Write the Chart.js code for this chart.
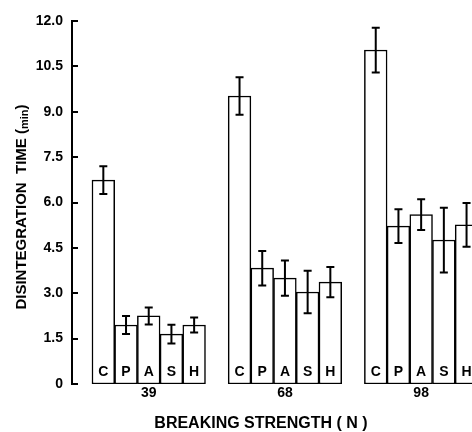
<!DOCTYPE html>
<html lang="en">
<head>
    <meta charset="UTF-8">
    <script src="https://cdn.jsdelivr.net/npm/chart.js@4"></script>
    <title>Disintegration time</title>
    <style>
        body { margin: 0; background: #fff; }
    </style>
</head>
<body>
<canvas id="myChart" width="472" height="432"></canvas>
<script>
// breaking strength groups and the five formulations in each
const strengths = ['39', '68', '98'];
const letters = ['C', 'P', 'A', 'S', 'H'];
// disintegration time (min) and error bars, one pair per group
const time39 = [6.74, 1.95, 2.25, 1.65, 1.95];
const err39 = [0.46, 0.30, 0.28, 0.31, 0.25];
const time68 = [9.52, 3.83, 3.50, 3.04, 3.37];
const err68 = [0.62, 0.57, 0.58, 0.70, 0.50];
const time98 = [11.04, 5.22, 5.60, 4.76, 5.26];
const err98 = [0.74, 0.56, 0.51, 1.07, 0.72];
const yMax = 12;
const yStep = 1.5;

const times = [time39, time68, time98];
const errs = [err39, err68, err98];
const slotsPerGroup = letters.length + 1; // one empty slot between groups

let points = [];
let errList = [];
strengths.forEach((s, g) => {
    letters.forEach((l, i) => {
        points.push({x: g * slotsPerGroup + i, y: times[g][i], letter: l});
        errList.push(errs[g][i]);
    });
});
const groupCenters = strengths.map((s, g) => g * slotsPerGroup + (letters.length - 1) / 2);

const FONT = '"Liberation Sans", Arial, sans-serif';
Chart.defaults.color = '#000';
Chart.defaults.font.family = FONT;

// error bars, tick marks on the inside of the y axis, bar letters, axis titles
const extras = {
    id: 'extras',
    afterDatasetsDraw(chart) {
        const ctx = chart.ctx;
        const y = chart.scales.y;
        const meta = chart.getDatasetMeta(0);
        ctx.save();
        ctx.beginPath();
        ctx.rect(0, 0, chart.width, chart.height);
        ctx.clip();
        ctx.strokeStyle = '#000';
        ctx.lineWidth = 2;
        meta.data.forEach((bar, i) => {
            const v = points[i].y;
            const e = errList[i];
            const top = y.getPixelForValue(v + e);
            const bot = y.getPixelForValue(v - e);
            ctx.beginPath();
            ctx.moveTo(bar.x, top);
            ctx.lineTo(bar.x, bot);
            ctx.moveTo(bar.x - 4, top);
            ctx.lineTo(bar.x + 4, top);
            ctx.moveTo(bar.x - 4, bot);
            ctx.lineTo(bar.x + 4, bot);
            ctx.stroke();
        });
        // letters at the foot of each bar
        ctx.fillStyle = '#000';
        ctx.font = 'bold 14px ' + FONT;
        ctx.textAlign = 'center';
        ctx.textBaseline = 'middle';
        meta.data.forEach((bar, i) => {
            ctx.fillText(points[i].letter, bar.x, y.getPixelForValue(0) - 12);
        });
        ctx.restore();
    },
    afterDraw(chart) {
        const ctx = chart.ctx;
        const y = chart.scales.y;
        const area = chart.chartArea;
        ctx.save();
        ctx.strokeStyle = '#000';
        ctx.lineWidth = 2;
        y.ticks.forEach(t => {
            const py = Math.round(y.getPixelForValue(t.value));
            ctx.beginPath();
            ctx.moveTo(area.left, py);
            ctx.lineTo(area.left + 6, py);
            ctx.stroke();
        });
        ctx.fillStyle = '#000';
        // x title
        ctx.font = 'bold 16px ' + FONT;
        ctx.textAlign = 'center';
        ctx.textBaseline = 'middle';
        ctx.fillText('BREAKING STRENGTH ( N )', 261, 424);
        // y title with subscript "min"
        const big = 'bold 15px ' + FONT;
        const small = 'bold 11px ' + FONT;
        const parts = [['DISINTEGRATION  TIME (', big, 0], ['min', small, 3], [')', big, 0]];
        let total = 0;
        parts.forEach(p => { ctx.font = p[1]; total += ctx.measureText(p[0]).width; });
        ctx.translate(22, 207);
        ctx.rotate(-Math.PI / 2);
        ctx.textAlign = 'left';
        let cx = -total / 2;
        parts.forEach(p => {
            ctx.font = p[1];
            ctx.fillText(p[0], cx, p[2]);
            cx += ctx.measureText(p[0]).width;
        });
        ctx.restore();
    }
};

const ctx = document.getElementById('myChart');
const myChart = new Chart(ctx, {
    type: 'bar',
    data: {
        datasets: [{
            data: points,
            backgroundColor: '#fff',
            borderColor: '#000',
            borderWidth: 1.5,
            borderSkipped: false,
            barPercentage: 1,
            categoryPercentage: 1
        }]
    },
    options: {
        responsive: false,
        devicePixelRatio: 1,
        animation: false,
        layout: { padding: { top: 21, right: 0, bottom: 0, left: 0 } },
        plugins: {
            legend: { display: false },
            tooltip: { enabled: false }
        },
        scales: {
            x: {
                type: 'linear',
                offset: false,
                min: -1.38,
                max: 16.24,
                afterBuildTicks: (scale) => {
                    scale.ticks = groupCenters.map(v => ({value: v}));
                },
                afterFit: (scale) => { scale.height = 48; },
                grid: { display: false, drawTicks: false, offset: false },
                border: { display: false },
                ticks: {
                    padding: 1,
                    maxRotation: 0,
                    font: { size: 14, weight: 'bold' },
                    callback: (v) => strengths[groupCenters.indexOf(v)] || ''
                }
            },
            y: {
                min: 0,
                max: yMax,
                afterFit: (scale) => { scale.width = 72; },
                grid: { display: false, drawTicks: false },
                border: { display: true, color: '#000', width: 2 },
                ticks: {
                    stepSize: yStep,
                    padding: 9,
                    font: { size: 14, weight: 'bold' },
                    callback: (v) => v === 0 ? '0' : v.toFixed(1)
                }
            }
        }
    },
    plugins: [extras]
});
</script>
</body>
</html>
